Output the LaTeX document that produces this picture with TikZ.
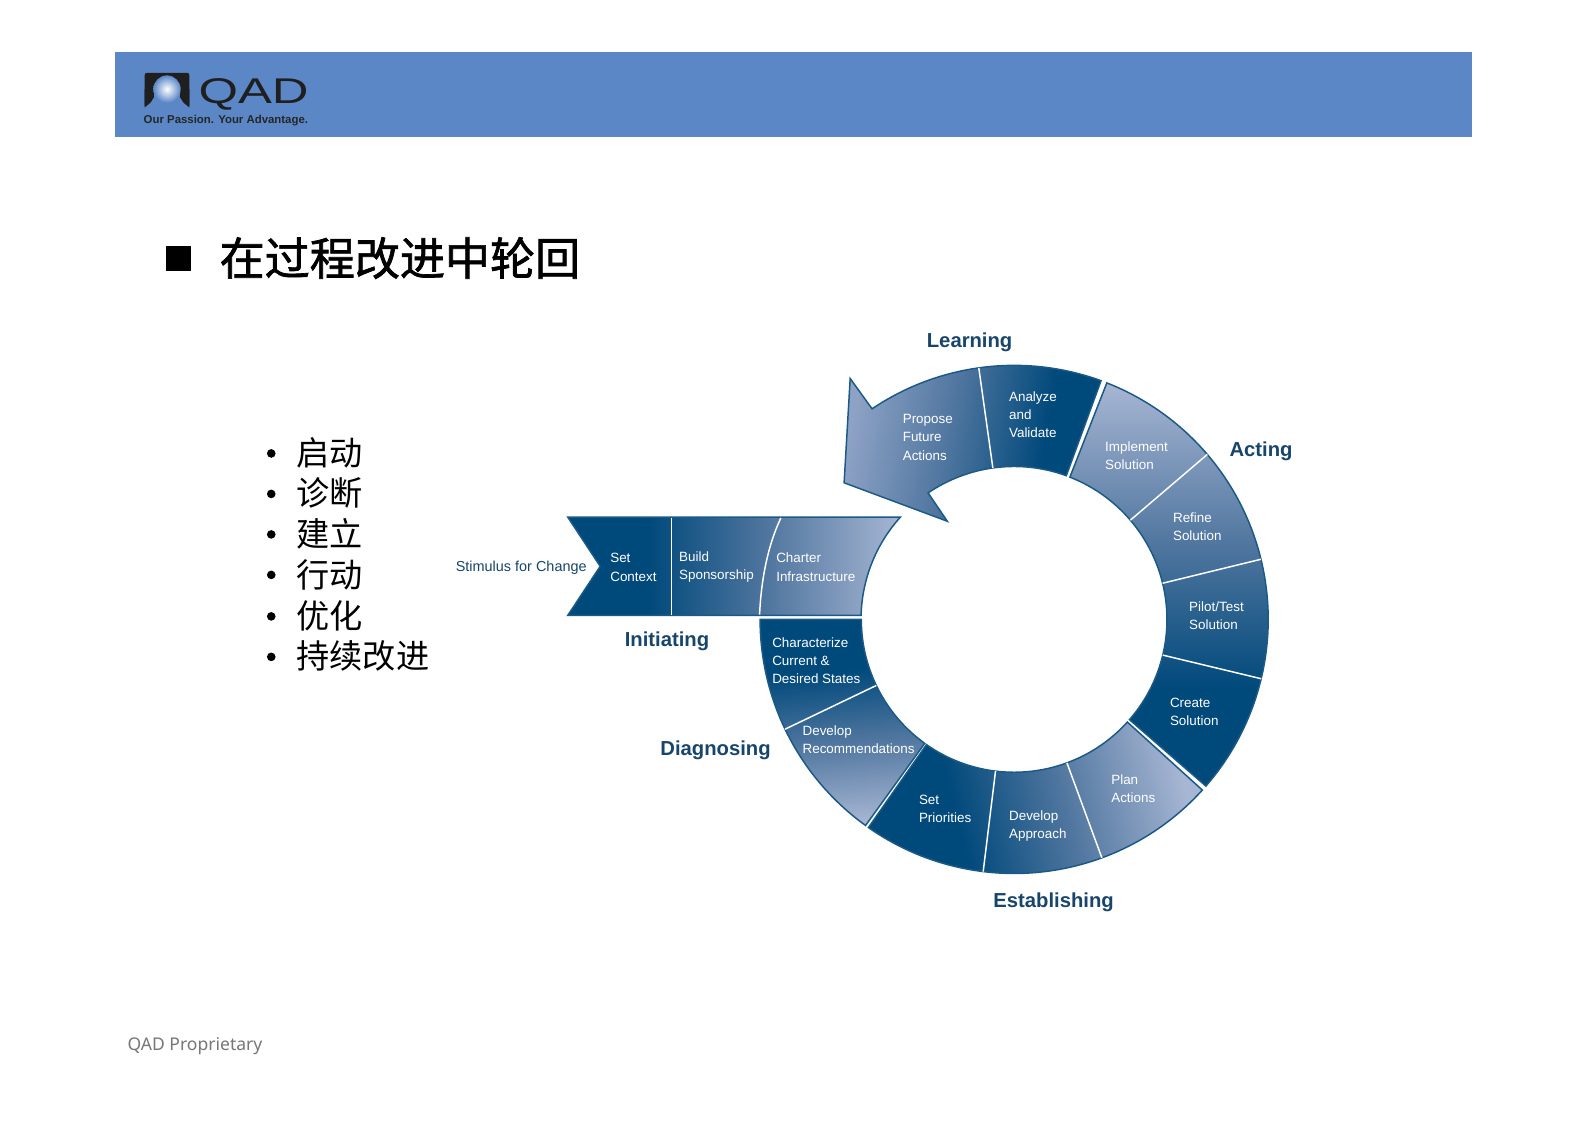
\documentclass[tikz,border=0pt]{standalone}
\usepackage{fontspec}
\usetikzlibrary{calc}
\setmainfont{Liberation Sans}
\newfontfamily\cjk[AutoFakeBold=1.5]{Noto Sans CJK SC}
\newfontfamily\cjkplain{Noto Sans CJK SC}
\newfontfamily\footfont{Noto Sans}
\definecolor{banner}{HTML}{5B87C7}
\definecolor{dk}{HTML}{00497B}
\definecolor{md}{HTML}{50769F}
\definecolor{lt}{HTML}{A7B6D3}
\definecolor{ltb}{HTML}{8DA2C5}
\definecolor{edge}{HTML}{1B5A86}
\definecolor{labelc}{HTML}{17456B}
\definecolor{footc}{HTML}{777777}
\pgfdeclarehorizontalshading{ramp}{100bp}{color(0bp)=(dk); color(25bp)=(dk); color(37bp)=(dk); color(55bp)=(md); color(75bp)=(lt); color(100bp)=(lt)}
\pgfdeclarehorizontalshading{rampsoft}{100bp}{color(0bp)=(dk); color(25bp)=(dk); color(35bp)=(dk); color(55bp)=(md); color(75bp)=(ltb); color(100bp)=(ltb)}
\tikzset{
  x=0.75pt,y=0.75pt,
  band/.style={shading=ramp,draw=edge,line width=1.1pt,line join=miter},
  divider/.style={draw=white,line width=1.1pt},
  seglabel/.style={anchor=west,align=left,inner sep=0pt,outer sep=0pt,text=white,font=\fontsize{9.95}{13.5}\selectfont},
  phase/.style={inner sep=0pt,outer sep=0pt,text=labelc,font=\fontsize{15}{18}\selectfont\bfseries},
  zh/.style={anchor=west,inner sep=0pt,outer sep=0pt,text=black,font=\fontsize{24.6}{28}\selectfont\cjkplain},
  dot/.style={circle,fill=black,inner sep=0pt,minimum size=6.4pt},
}
\newcommand{\RO}{188.25pt}
\newcommand{\RI}{113.25pt}
\newcommand{\ringpath}[2]{($(C)+(#1:\RO)$) arc[start angle=#1,end angle=#2,radius=\RO] -- ($(C)+(#2:\RI)$) arc[start angle=#2,end angle=#1,radius=\RI] -- cycle}
\newcommand{\spoke}[1]{\draw[divider] ($(C)+(#1:\RI)$) -- ($(C)+(#1:\RO)$);}
\begin{document}
\begin{tikzpicture}
\useasboundingbox (0,0) rectangle (1568,-1107.6);
\fill[white] (0,0) rectangle (1568,-1107.6);
\coordinate (C) at (1002,-612);
% banner
\fill[banner] (113.5,-51) rectangle (1454,-135);
% logo
\fill[black!88,rounded corners=1.5pt] (143,-72) -- (187,-72) -- (187,-106) -- (181,-101) -- (178,-95) -- (152,-95) -- (149,-101) -- (143,-106) -- cycle;
\fill[banner] (152,-96) rectangle (178,-90);
\shade[inner color=white,outer color=banner] (165,-88) circle[radius=13.5];
\fill[black!88] (150.6,-90) -- (152,-96) -- (149,-101) -- (143,-106) -- (143,-88) -- cycle;
\fill[black!88] (179.4,-90) -- (178,-96) -- (181,-101) -- (187,-106) -- (187,-88) -- cycle;
\node[inner sep=0pt,outer sep=0pt,text=black!88,xscale=1.42] (qad) at (250.5,-93) {\fontsize{26.5}{28}\selectfont QAD};
\node[anchor=west,inner sep=0pt,outer sep=0pt,text=black!85,font=\fontsize{8.45}{10}\selectfont\bfseries] (slogan) at (142,-119) {Our Passion. Your Advantage.};
% title
\fill[black] (164,-243) rectangle (189,-268);
\node[anchor=west,inner sep=0pt,outer sep=0pt,font=\fontsize{33.4}{36}\selectfont\cjk\bfseries] (title) at (217,-255) {在过程改进中轮回};
% list
\node[dot] (d1) at (268,-448) {}; \node[zh] (t1) at (293,-447.5) {启动};
\node[dot] (d2) at (268,-488) {}; \node[zh] (t2) at (293,-487.5) {诊断};
\node[dot] (d3) at (268,-528) {}; \node[zh] (t3) at (293,-527.5) {建立};
\node[dot] (d4) at (268,-568) {}; \node[zh] (t4) at (293,-568) {行动};
\node[dot] (d5) at (268,-609) {}; \node[zh] (t5) at (293,-608.5) {优化};
\node[dot] (d6) at (268,-649) {}; \node[zh] (t6) at (293,-648.5) {持续改进};
% Initiating band
\path[band,shading angle=0] (561,-511) -- (889.5,-511) arc[start angle=138.0,end angle=178.5,radius=\RI] -- (561,-608) -- (593,-559.5) -- cycle;
\draw[divider] (663.5,-511.8) -- (663.5,-607.2);
\draw[divider] (771.5,-511.8) .. controls (759,-538) and (752,-572) .. (750.5,-607.2);
% Diagnosing
\path[band,shading angle=-85] \ringpath{234.2}{180};
\spoke{205.6}
% Establishing
\path[band,shading angle=14] \ringpath{-125}{-42.2};
\spoke{-97}
\spoke{-69.8}
% Acting
\path[band,shading angle=90] \ringpath{-41}{68.6};
\spoke{-13.5}
\spoke{13.7}
\spoke{40.5}
% Learning
\path[band,shading=rampsoft,shading angle=170] ($(C)+(70:\RO)$) arc[start angle=70,end angle=124,radius=\RO] -- (840,-374) -- (834,-477) -- (936,-515) -- (917,-487) arc[start angle=124.2,end angle=70,radius=\RI] -- cycle;
\spoke{98}
% segment texts
\node[seglabel] (s1) at (603,-560.5) {Set\\Context};
\node[seglabel] (s2) at (671,-560.5) {Build\\Sponsorship};
\node[seglabel] (s3) at (767,-560.5) {Charter\\Infrastructure};
\node[seglabel] (s4) at (763,-653) {Characterize\\Current \&\\Desired States};
\node[seglabel] (s5) at (793,-731) {Develop\\Recommendations};
\node[seglabel] (s6) at (908,-799) {Set\\Priorities};
\node[seglabel] (s7) at (997,-816.5) {Develop\\Approach};
\node[seglabel] (s8) at (1098,-779) {Plan\\Actions};
\node[seglabel] (s9) at (1156,-703) {Create\\Solution};
\node[seglabel] (s10) at (1175,-608) {Pilot/Test\\Solution};
\node[seglabel] (s11) at (1159,-520) {Refine\\Solution};
\node[seglabel] (s12) at (1092,-450) {Implement\\Solution};
\node[seglabel] (s13) at (997,-410) {Analyze\\and\\Validate};
\node[seglabel] (s14) at (892,-432) {Propose\\Future\\Actions};
\node[inner sep=0pt,outer sep=0pt,text=labelc,font=\fontsize{10.7}{13}\selectfont] (stim) at (515,-561) {Stimulus for Change};
% phase labels
\node[phase] (learning) at (958,-338) {Learning};
\node[phase] (acting) at (1246,-446) {Acting};
\node[phase] (initiating) at (659,-633.5) {Initiating};
\node[phase] (diagnosing) at (707,-741.5) {Diagnosing};
\node[phase] (establishing) at (1041,-891.5) {Establishing};
% footer
\node[anchor=west,inner sep=0pt,outer sep=0pt,text=footc,font=\fontsize{13}{16}\selectfont\footfont] (foot) at (126,-1033.5) {QAD Proprietary};
\end{tikzpicture}
\end{document}
